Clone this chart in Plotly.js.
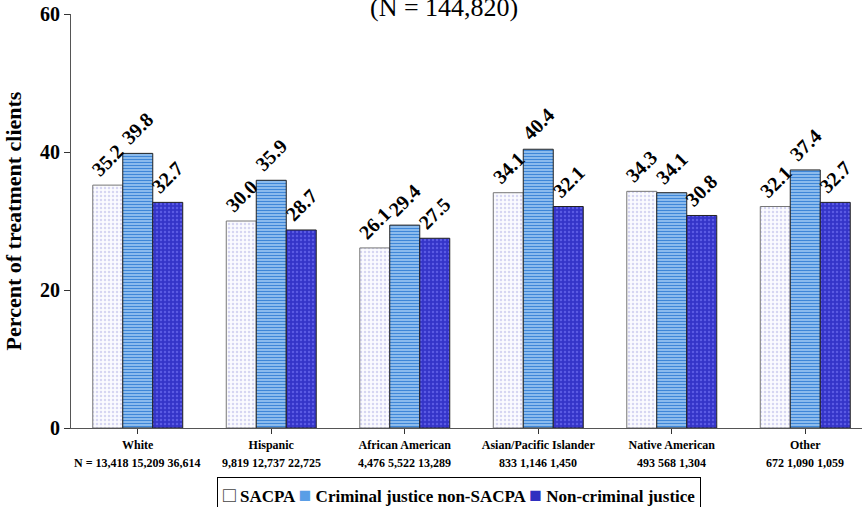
<!DOCTYPE html>
<html>
<head>
<meta charset="utf-8">
<script src="https://cdn.plot.ly/plotly-3.0.1.min.js"></script>
<style>
  html, body { margin: 0; padding: 0; background: #fff; }
  #chart { width: 862px; height: 507px; }
</style>
</head>
<body>
<div id="chart"></div>
<script>
// Treatment clients by race/ethnicity and referral source
const groups = ['White', 'Hispanic', 'African American', 'Asian/Pacific Islander', 'Native American', 'Other'];
const groupCounts = [
  'N = 13,418 15,209 36,614',
  '9,819 12,737 22,725',
  '4,476 5,522 13,289',
  '833 1,146 1,450',
  '493 568 1,304',
  '672 1,090 1,059'
];
const seriesNames = ['SACPA', 'Criminal justice non-SACPA', 'Non-criminal justice'];
const sacpa = [35.2, 30.0, 26.1, 34.1, 34.3, 32.1];
const cjNonSacpa = [39.8, 35.9, 29.4, 40.4, 34.1, 37.4];
const nonCj = [32.7, 28.7, 27.5, 32.1, 30.8, 32.7];
const totalN = '(N = 144,820)';

const serif = 'Liberation Serif';
const BOLD = 'bold';
const BARGAP = 0.326;
const xIdx = groups.map((_, i) => i);

const patterns = [
  { shape: '.', bgcolor: '#fbfbff', fgcolor: '#d6d6f2', size: 4, solidity: 0.3 },
  { shape: '-', bgcolor: '#a4cdf4', fgcolor: '#3f87d8', size: 3, solidity: 0.5 },
  { shape: '.', bgcolor: '#3434c8', fgcolor: '#5a5ae4', size: 4, solidity: 0.3 }
];
const outlines = ['#777', '#222', '#222'];
const keyGlyphs = [
  '<span style="color:#444;font-size:21px">□</span>',
  '<span style="color:#5a9ee6;font-size:21px">■</span>',
  '<span style="color:#3030c0;font-size:21px">■</span>'
];
const seriesValues = [sacpa, cjNonSacpa, nonCj];

const traces = seriesValues.map((vals, j) => ({
  type: 'bar',
  name: seriesNames[j],
  x: xIdx,
  y: vals,
  marker: {
    color: patterns[j].bgcolor,
    line: { color: outlines[j], width: 1 },
    pattern: patterns[j]
  },
  hoverinfo: 'skip'
}));

// rotated value labels above each bar (bar centre within its group)
const barWidth = (1 - BARGAP) / seriesValues.length;
const valueLabels = [];
seriesValues.forEach((vals, j) => {
  vals.forEach((v, i) => {
    valueLabels.push({
      x: i + (j - (seriesValues.length - 1) / 2) * barWidth,
      y: v, xref: 'x', yref: 'y',
      xanchor: 'center', yanchor: 'middle',
      yshift: 25,
      textangle: -45,
      text: v.toFixed(1), showarrow: false,
      font: { family: serif, size: 20, color: '#000', weight: BOLD }
    });
  });
});

// second line of each category label: group sizes
const countNotes = groupCounts.map((t, i) => ({
  x: i, y: 0, xref: 'x', yref: 'paper',
  yanchor: 'middle', yshift: -35,
  text: t, showarrow: false,
  font: { family: serif, size: 12, color: '#000', weight: BOLD }
}));

// boxed key below the axis
const keyText = seriesNames.map((n, j) => keyGlyphs[j] + ' ' + n).join(' ');
const keyNote = {
  x: 0.4905, y: 0, xref: 'paper', yref: 'paper',
  xanchor: 'center', yanchor: 'middle', yshift: -67,
  text: keyText, showarrow: false,
  bordercolor: '#000', borderwidth: 1, borderpad: 5,
  font: { family: serif, size: 17, color: '#000', weight: BOLD }
};

const layout = {
  width: 862,
  height: 507,
  margin: { l: 71, r: 0, t: 14, b: 79 },
  paper_bgcolor: '#fff',
  plot_bgcolor: '#fff',
  barmode: 'group',
  bargap: BARGAP,
  bargroupgap: 0,
  showlegend: false,
  font: { family: serif, color: '#000' },
  xaxis: {
    range: [-0.5, 5.425],
    tickvals: xIdx,
    ticktext: groups,
    tickson: 'boundaries',
    ticks: 'outside',
    ticklen: 5,
    tickcolor: '#333',
    ticklabelstandoff: 1,
    showline: true,
    linecolor: '#555',
    linewidth: 1,
    showgrid: false,
    zeroline: false,
    tickfont: { family: serif, size: 12, color: '#000', weight: BOLD },
    fixedrange: true
  },
  yaxis: {
    range: [0, 60],
    tickvals: [0, 20, 40, 60],
    ticks: 'outside',
    ticklen: 6,
    tickcolor: '#333',
    showline: true,
    linecolor: '#555',
    linewidth: 1,
    showgrid: false,
    zeroline: false,
    tickfont: { family: serif, size: 20, color: '#000', weight: BOLD },
    title: { text: 'Percent of treatment clients', font: { family: serif, size: 22, color: '#000', weight: BOLD }, standoff: 12 },
    fixedrange: true
  },
  annotations: [
    {
      x: 0.4716, y: 1.0, xref: 'paper', yref: 'paper',
      xanchor: 'center', yanchor: 'middle', yshift: 7,
      text: totalN, showarrow: false,
      font: { family: serif, size: 26, color: '#000' }
    },
    keyNote
  ].concat(countNotes, valueLabels)
};

Plotly.newPlot('chart', traces, layout, { displayModeBar: false, staticPlot: true });
</script>
</body>
</html>
